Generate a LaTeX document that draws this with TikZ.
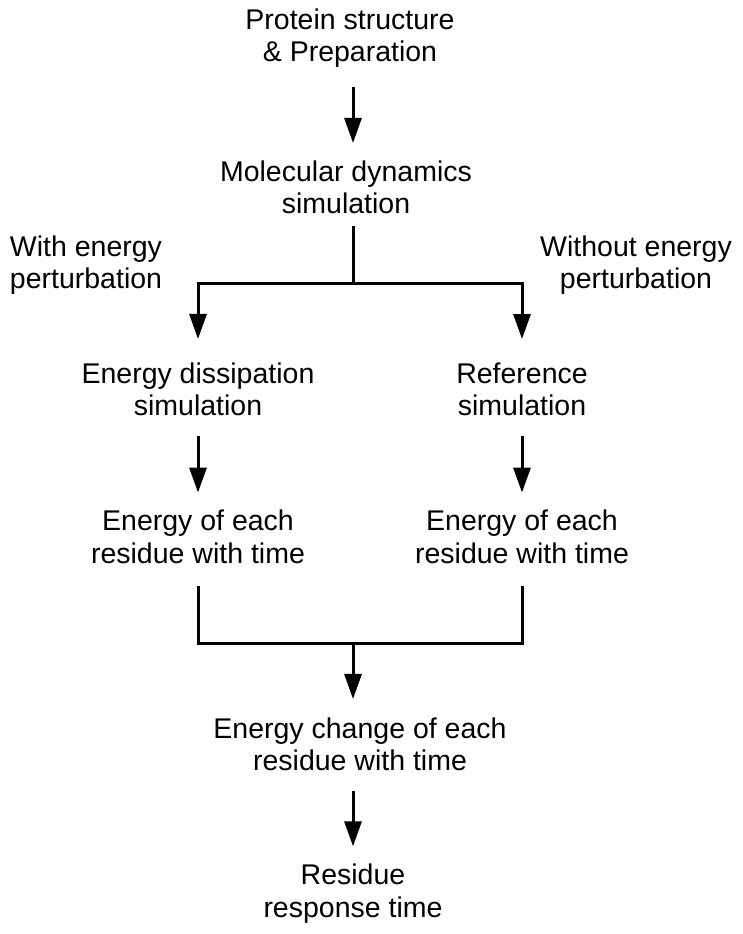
\documentclass[tikz,border=0pt]{standalone}
\usepackage{fontspec}
\setmainfont{Liberation Sans}
\usetikzlibrary{arrows.meta,calc}
\def\flowfont{\fontsize{28.5}{32.5}\selectfont}

\begin{document}
\begin{tikzpicture}[x=1pt,y=-1pt,
    lbl/.style={align=center, inner sep=0pt, font=\flowfont},
    conn/.style={line width=3pt},
    arr/.style={conn, -{Triangle[length=25pt,width=17pt]}}]
  \useasboundingbox (0,0) rectangle (743,934);
  \coordinate (mid) at (353,0);
  \coordinate (split) at (353,283);
  \coordinate (merge) at (353,643);

  \node[lbl] (prot) at (350,38) {Protein structure\\\& Preparation};
  \node[lbl] (md) at (346,187.4) {Molecular dynamics\\simulation};
  \node[lbl] (withp) at (86,265) {With energy\\perturbation};
  \node[lbl] (nowithp) at (636,265) {Without energy\\perturbation};
  \node[lbl] (dis) at (198,389.4) {Energy dissipation\\simulation};
  \node[lbl] (ref) at (522,389.4) {Reference\\simulation};
  \node[lbl] (eng1) at (198,537) {Energy of each\\residue with time};
  \node[lbl] (eng2) at (522,537) {Energy of each\\residue with time};
  \node[lbl] (chg) at (360,744.4) {Energy change of each\\residue with time};
  \node[lbl] (res) at (353,893.6) {Residue\\response time};

  \draw[arr, shorten <=19pt, shorten >=17.5pt] (prot.south -| mid) -- (md.north -| mid);
  \draw[conn, shorten <=12pt] (md.south -| mid) -- (split);
  \draw[arr, shorten >=23.5pt] (split) -| (dis.north);
  \draw[arr, shorten >=23.5pt] (split) -| (ref.north);
  \draw[arr, shorten <=20pt, shorten >=17.5pt] (dis.south) -- (eng1.north);
  \draw[arr, shorten <=20pt, shorten >=17.5pt] (ref.south) -- (eng2.north);
  \draw[conn, shorten <=22pt] (eng1.south) |- (merge);
  \draw[conn, shorten <=22pt] (eng2.south) |- (merge);
  \draw[arr, shorten >=18.5pt] (merge) -- (chg.north -| merge);
  \draw[arr, shorten <=20pt, shorten >=17.5pt] (chg.south -| mid) -- (res.north -| mid);
\end{tikzpicture}
\end{document}
